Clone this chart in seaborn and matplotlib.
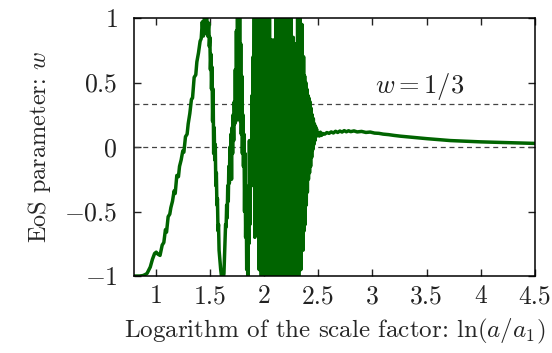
import numpy as np
import pandas as pd
import matplotlib
matplotlib.use('Agg')
import matplotlib.pyplot as plt
import seaborn as sns

# EoS parameter w
lna_rise = [0.80, 0.85, 0.88, 0.90, 0.92, 0.95, 0.97, 0.99, 1.005, 1.02, 1.04,
            1.06, 1.075, 1.09, 1.10, 1.115, 1.13, 1.14, 1.155, 1.17, 1.18, 1.195,
            1.21, 1.22, 1.235, 1.25, 1.26, 1.275, 1.29, 1.30, 1.315, 1.33, 1.34,
            1.355, 1.37, 1.38, 1.395, 1.41, 1.42, 1.43, 1.44, 1.45, 1.46, 1.47,
            1.48, 1.49, 1.495]
w_rise = [-1.0, -1.0, -0.997, -0.99, -0.98, -0.93, -0.87, -0.825, -0.815, -0.83, -0.84,
          -0.76, -0.74, -0.64, -0.66, -0.54, -0.52, -0.47, -0.42, -0.34, -0.36, -0.22,
          -0.23, -0.15, -0.10, -0.03, -0.04, 0.08, 0.10, 0.18, 0.26, 0.37, 0.38,
          0.54, 0.56, 0.66, 0.73, 0.82, 0.84, 0.97, 0.86, 1.03, 0.88, 1.04,
          0.86, 0.96, 0.78]

lna_swing = [1.50, 1.505, 1.51, 1.515, 1.52, 1.525, 1.53, 1.535, 1.54, 1.545, 1.55,
             1.555, 1.56, 1.565, 1.57, 1.575, 1.58, 1.585, 1.59, 1.60, 1.61, 1.62,
             1.63, 1.635, 1.64, 1.645, 1.65, 1.655, 1.66, 1.665, 1.67, 1.675, 1.68,
             1.685, 1.69, 1.695, 1.70, 1.705, 1.71, 1.715, 1.72, 1.725, 1.73, 1.735,
             1.74, 1.745, 1.75, 1.755, 1.76, 1.765, 1.77, 1.775, 1.78, 1.785, 1.79,
             1.795, 1.80, 1.805, 1.81, 1.815, 1.82, 1.825, 1.83, 1.835, 1.84, 1.845,
             1.85, 1.855, 1.86, 1.865, 1.87, 1.875, 1.88, 1.885, 1.89, 1.895, 1.90,
             1.905, 1.91]
w_swing = [0.85, 0.60, 0.72, 0.45, 0.62, 0.20, 0.45, -0.05, 0.15, -0.10, 0.02,
           -0.30, -0.20, -0.45, -0.40, -0.65, -0.60, -0.80, -0.85, -0.95, -1.02, -1.04,
           -0.98, -0.85, -0.70, -0.60, -0.62, -0.45, -0.55, -0.30, -0.42, -0.15, -0.28,
           0.00, -0.20, 0.10, -0.25, 0.15, -0.05, 0.25, 0.05, 0.35, 0.18, 0.60,
           0.20, 0.90, 0.30, 1.05, 0.40, 1.08, 0.30, 1.05, 0.20, 0.80, 0.10,
           0.55, -0.05, 0.25, -0.15, 0.10, -0.50, -0.05, -0.70, -0.30, -0.95, -0.40,
           -1.05, -0.55, -0.75, 0.05, -0.60, -0.10, 0.05, -0.30, 0.40, -0.20, 0.70,
           0.10, 1.05]

lna_burst = [1.915, 1.92, 1.925, 1.93, 1.935, 1.94, 1.945, 1.95, 1.955, 1.96, 1.965,
             1.97, 1.975, 1.98, 1.985, 1.99, 1.995, 2.00, 2.005, 2.01, 2.015, 2.02,
             2.025, 2.03, 2.035, 2.04, 2.045, 2.05, 2.06, 2.07, 2.08, 2.09, 2.10,
             2.11, 2.12, 2.13, 2.14, 2.15, 2.16, 2.17, 2.18, 2.19, 2.20, 2.21,
             2.22, 2.23, 2.24, 2.25, 2.26, 2.27, 2.28, 2.29, 2.30, 2.31, 2.32,
             2.33, 2.34, 2.35, 2.36, 2.365, 2.37, 2.375, 2.38, 2.385, 2.39, 2.395,
             2.40, 2.405, 2.41, 2.415, 2.42, 2.425, 2.43, 2.435, 2.44, 2.445, 2.45,
             2.455, 2.46, 2.465, 2.47, 2.475, 2.48, 2.485, 2.49]
w_burst = [-0.70, 0.95, -0.40, 1.10, -0.55, 0.60, -0.35, 1.10, -0.95, 0.45, -0.40,
           0.50, -1.00, 1.10, -0.50, 0.45, -0.95, 0.40, -1.10, 0.45, -0.90, 1.10,
           -1.10, 0.90, -1.05, 1.10, -1.10, 1.10, -1.05, 0.83, -1.10, 0.83, -1.10,
           1.10, -0.95, 1.10, -1.10, 1.10, -1.10, 1.05, -1.10, 1.10, -1.05, 1.10,
           -1.10, 1.10, -1.10, 1.10, -1.10, 0.85, -1.05, 0.80, -1.10, 1.05, -1.00,
           1.05, -0.95, 0.95, -0.80, 0.70, -0.65, 0.55, -0.60, 0.50, -0.45, 0.45,
           -0.35, 0.40, -0.25, 0.38, -0.20, 0.35, -0.15, 0.30, -0.08, 0.25, -0.02,
           0.22, 0.02, 0.18, 0.05, 0.16, 0.08, 0.14, 0.09]

lna_tail = [2.50, 2.51, 2.52, 2.53, 2.54, 2.56, 2.58, 2.60, 2.62, 2.64, 2.66, 2.68,
            2.70, 2.72, 2.74, 2.76, 2.78, 2.80, 2.83, 2.86, 2.90, 2.94, 2.98, 3.02,
            3.06, 3.10, 3.15, 3.20, 3.26, 3.35, 3.50, 3.72, 4.00, 4.25, 4.50]
w_tail = [0.11, 0.085, 0.115, 0.09, 0.105, 0.10, 0.112, 0.106, 0.117, 0.109, 0.122, 0.113,
          0.124, 0.116, 0.127, 0.118, 0.126, 0.119, 0.125, 0.117, 0.121, 0.113, 0.116, 0.108,
          0.106, 0.100, 0.096, 0.090, 0.084, 0.077, 0.065, 0.050, 0.040, 0.034, 0.028]

xticks = [1, 1.5, 2, 2.5, 3, 3.5, 4, 4.5]
xticklabels = ['1', '1.5', '2', '2.5', '3', '3.5', '4', '4.5']
yticks = [-1, -0.5, 0, 0.5, 1]
yticklabels = ['$-1$', '$-0.5$', '$0$', '$0.5$', '$1$']

df = pd.DataFrame({'lna': lna_rise + lna_swing + lna_burst + lna_tail,
                   'w': w_rise + w_swing + w_burst + w_tail})

sns.set_style('ticks')
plt.rcParams['font.family'] = ['cmr10', 'DejaVu Serif']
plt.rcParams['mathtext.fontset'] = 'cm'
plt.rcParams['axes.unicode_minus'] = False

fig = plt.figure(figsize=(5.52, 3.53), dpi=100)
ax = fig.add_axes([0.2428, 0.218, 0.7262, 0.731])

ax.axhline(0, color='#444444', lw=0.9, ls=(0, (4, 3)))
ax.axhline(1/3, color='#444444', lw=0.9, ls=(0, (4, 3)))
ax.text(3.44, 0.35, '$w = 1/3$', ha='center', va='bottom', fontsize=19, color='#222222')

sns.lineplot(x='lna', y='w', data=df, sort=False, estimator=None,
             color='#006400', linewidth=2.5, ax=ax)

ax.set(xlim=(0.8, 4.5), ylim=(-1, 1), xticks=xticks, yticks=yticks)
ax.set_xticklabels(xticklabels)
ax.set_yticklabels(yticklabels)
ax.set_xlabel(r'Logarithm of the scale factor: $\ln(a/a_1)$', fontsize=18, labelpad=6)
ax.set_ylabel(r'EoS parameter: $w$', fontsize=17.5, labelpad=8)
ax.tick_params(direction='in', top=True, right=True, length=5, width=1,
               labelsize=18.5, colors='#222222')
ax.tick_params(axis='x', pad=6)
ax.tick_params(axis='y', pad=12)
for s in ax.spines.values():
    s.set_linewidth(1.1)
    s.set_color('black')

fig.savefig('out.png', dpi=100)
